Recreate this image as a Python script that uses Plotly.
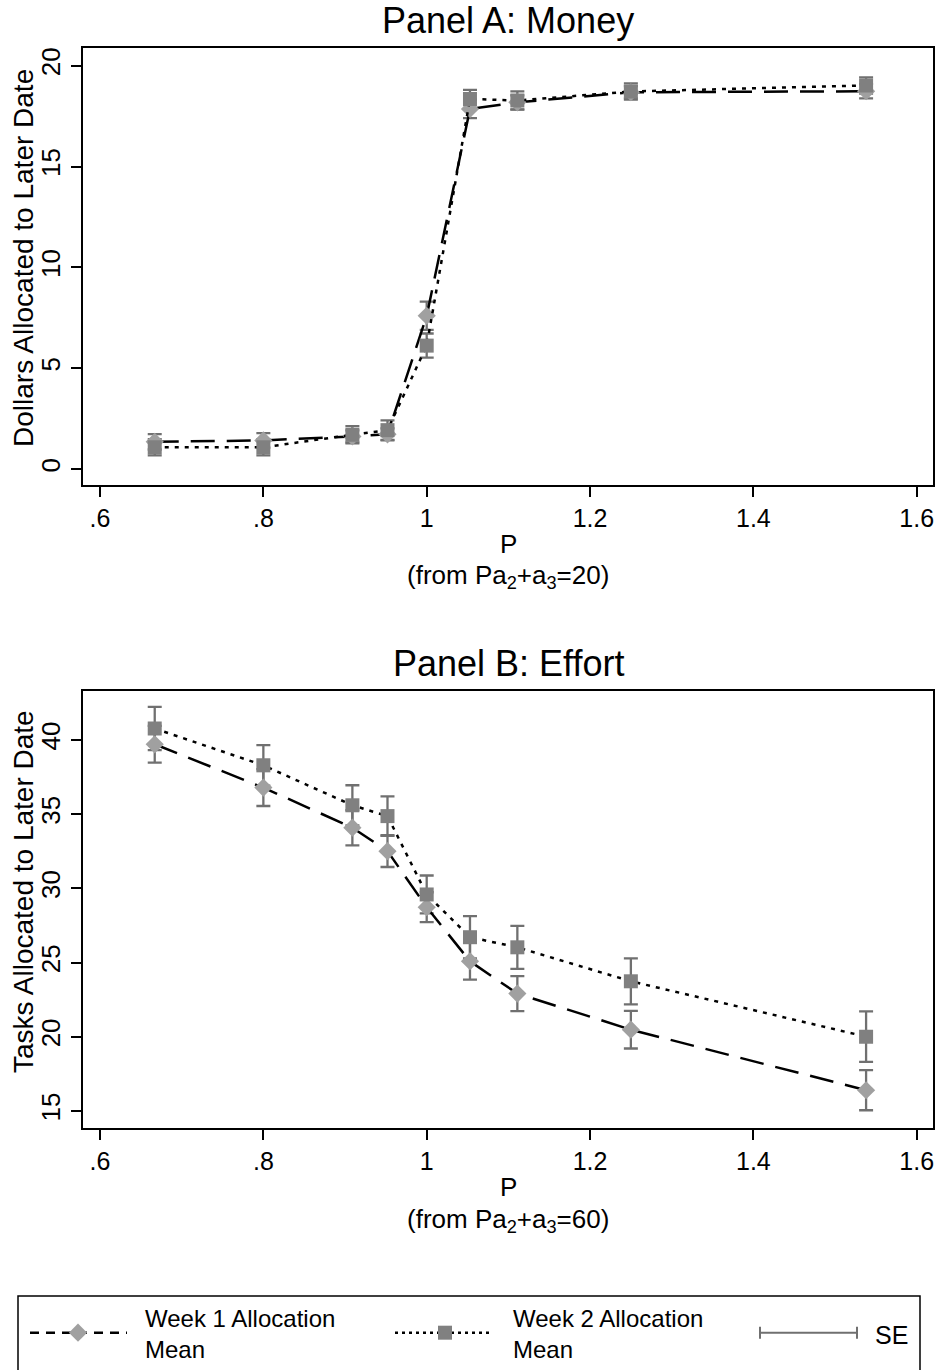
import plotly.graph_objects as go

# ---- data -------------------------------------------------------------
price = [0.667, 0.8, 0.909, 0.952, 1.0, 1.053, 1.111, 1.25, 1.538]

x_tickvals = [0.6, 0.8, 1.0, 1.2, 1.4, 1.6]
x_ticktext = [".6", ".8", "1", "1.2", "1.4", "1.6"]
money_ticks = [0, 5, 10, 15, 20]
effort_ticks = [15, 20, 25, 30, 35, 40]

money_week1 = [1.35, 1.42, 1.62, 1.72, 7.60, 17.85, 18.18, 18.68, 18.73]
money_week1_se = [0.38, 0.36, 0.30, 0.30, 0.70, 0.45, 0.35, 0.30, 0.35]
money_week2 = [1.08, 1.08, 1.70, 1.93, 6.12, 18.35, 18.27, 18.72, 19.02]
money_week2_se = [0.40, 0.40, 0.43, 0.48, 0.60, 0.45, 0.45, 0.40, 0.40]

effort_week1 = [39.71, 36.79, 34.09, 32.51, 28.73, 25.09, 22.91, 20.48, 16.40]
effort_week1_se = [1.24, 1.24, 1.19, 1.07, 1.01, 1.24, 1.18, 1.27, 1.35]
effort_week2 = [40.77, 38.29, 35.60, 34.87, 29.59, 26.71, 26.03, 23.74, 20.01]
effort_week2_se = [1.46, 1.36, 1.35, 1.33, 1.28, 1.42, 1.45, 1.55, 1.70]

# ---- style ------------------------------------------------------------
W, H = 942, 1370
FONT = "Liberation Sans, Arial, Helvetica, sans-serif"
W1_COLOR = "rgb(160,160,160)"
W2_COLOR = "rgb(128,128,128)"
SE_COLOR = "rgb(112,112,112)"
W1_DASH = "24px,12px"
W2_DASH = "4px,6px"


def fx(px):
    return px / W


def fy(py):
    return 1 - py / H


fig = go.Figure()

panels = [
    ("x", "y", money_week1, money_week1_se, money_week2, money_week2_se),
    ("x2", "y2", effort_week1, effort_week1_se, effort_week2, effort_week2_se),
]

for xa, ya, w1, w1se, w2, w2se in panels:
    # standard-error caps
    for vals, se in ((w1, w1se), (w2, w2se)):
        fig.add_trace(go.Scatter(
            x=price, y=vals, mode="markers", xaxis=xa, yaxis=ya,
            marker=dict(size=1, color="rgba(0,0,0,0)"),
            error_y=dict(type="data", array=se, visible=True,
                         color=SE_COLOR, thickness=2.3, width=7),
            showlegend=False, hoverinfo="skip"))
    # week 1 mean
    fig.add_trace(go.Scatter(
        x=price, y=w1, mode="lines+markers", xaxis=xa, yaxis=ya,
        line=dict(color="black", width=2.5, dash=W1_DASH),
        marker=dict(symbol="diamond", size=14, color=W1_COLOR,
                    line=dict(width=0)),
        showlegend=False))
    # week 2 mean
    fig.add_trace(go.Scatter(
        x=price, y=w2, mode="lines+markers", xaxis=xa, yaxis=ya,
        line=dict(color="black", width=2.5, dash=W2_DASH),
        marker=dict(symbol="square", size=14, color=W2_COLOR,
                    line=dict(width=0)),
        showlegend=False))

# ---- legend keys (drawn in a pixel-scaled strip at the bottom) --------
LEG_Y = 1332.7
fig.add_trace(go.Scatter(x=[30, 127], y=[LEG_Y, LEG_Y], mode="lines",
                         xaxis="x3", yaxis="y3",
                         line=dict(color="black", width=2.5, dash="9px,7px"),
                         showlegend=False, hoverinfo="skip"))
fig.add_trace(go.Scatter(x=[78], y=[LEG_Y], mode="markers",
                         xaxis="x3", yaxis="y3",
                         marker=dict(symbol="diamond", size=14, color=W1_COLOR,
                                     line=dict(width=0)),
                         showlegend=False, hoverinfo="skip"))
fig.add_trace(go.Scatter(x=[395, 490], y=[LEG_Y, LEG_Y], mode="lines",
                         xaxis="x3", yaxis="y3",
                         line=dict(color="black", width=2.5, dash="3px,4px"),
                         showlegend=False, hoverinfo="skip"))
fig.add_trace(go.Scatter(x=[445], y=[LEG_Y], mode="markers",
                         xaxis="x3", yaxis="y3",
                         marker=dict(symbol="square", size=14, color=W2_COLOR,
                                     line=dict(width=0)),
                         showlegend=False, hoverinfo="skip"))
fig.add_trace(go.Scatter(x=[808.5], y=[LEG_Y], mode="markers",
                         xaxis="x3", yaxis="y3",
                         marker=dict(size=1, color="rgba(0,0,0,0)"),
                         error_x=dict(type="data", array=[48.5], visible=True,
                                      color=SE_COLOR, thickness=2, width=6),
                         showlegend=False, hoverinfo="skip"))

# ---- axes -------------------------------------------------------------
common_x = dict(
    tickvals=x_tickvals, ticktext=x_ticktext, range=[0.5788, 1.6203],
    ticks="outside", ticklen=10, tickwidth=1.6, tickcolor="black",
    showline=True, linecolor="black", linewidth=2, mirror=True,
    showgrid=False, zeroline=False,
    tickfont=dict(family=FONT, size=25, color="black"),
)
common_y = dict(
    ticks="outside", ticklen=10, tickwidth=1.6, tickcolor="black",
    showline=True, linecolor="black", linewidth=2, mirror=True,
    showgrid=False, zeroline=False, tickangle=-90,
    tickfont=dict(family=FONT, size=26, color="black"),
)
box_x = [fx(82.7), fx(933.3)]

fig.update_layout(
    width=W, height=H,
    margin=dict(l=0, r=0, t=0, b=0),
    paper_bgcolor="white", plot_bgcolor="rgba(0,0,0,0)",
    font=dict(family=FONT, color="black"),
    showlegend=False,
    xaxis=dict(domain=box_x, anchor="y", **common_x),
    yaxis=dict(domain=[fy(485), fy(48.3)], anchor="x",
               range=[-0.79, 20.86], tickvals=money_ticks, **common_y),
    xaxis2=dict(domain=box_x, anchor="y2", **common_x),
    yaxis2=dict(domain=[fy(1127.7), fy(691)], anchor="x2",
                range=[13.875, 43.30], tickvals=effort_ticks, **common_y),
    xaxis3=dict(domain=[0, 1], anchor="y3", range=[0, W], visible=False,
                fixedrange=True),
    yaxis3=dict(domain=[0, fy(1296)], anchor="x3", range=[H, 1296],
                visible=False, fixedrange=True),
)

# legend frame
fig.add_shape(type="rect", xref="paper", yref="paper",
              x0=fx(18), x1=fx(920), y0=fy(1380), y1=fy(1296),
              line=dict(color="black", width=1.5), fillcolor="rgba(0,0,0,0)")

# ---- text -------------------------------------------------------------
def label(text, x, y, size, xanchor="center", angle=0, align="center"):
    fig.add_annotation(text=text, x=fx(x), y=fy(y), xref="paper", yref="paper",
                       xanchor=xanchor, yanchor="middle", textangle=angle,
                       align=align, showarrow=False,
                       font=dict(family=FONT, size=size, color="black"))


label("Panel A: Money", 508, 21, 36)
label("Panel B: Effort", 508, 664, 36)

label("Dollars Allocated to Later Date", 23, 258, 28, angle=-90)
label("Tasks Allocated to Later Date", 23, 892, 28, angle=-90)

label("P", 508, 544, 26)
label("(from Pa<sub>2</sub>+a<sub>3</sub>=20)", 508, 577, 26)
label("P", 508, 1187, 26)
label("(from Pa<sub>2</sub>+a<sub>3</sub>=60)", 508, 1220, 26)

label("Week 1 Allocation<br>Mean", 143, 1334, 24, xanchor="left", align="left")
label("Week 2 Allocation<br>Mean", 511, 1334, 24, xanchor="left", align="left")
label("SE", 873, 1335, 25, xanchor="left")

fig.write_html("out.html")
